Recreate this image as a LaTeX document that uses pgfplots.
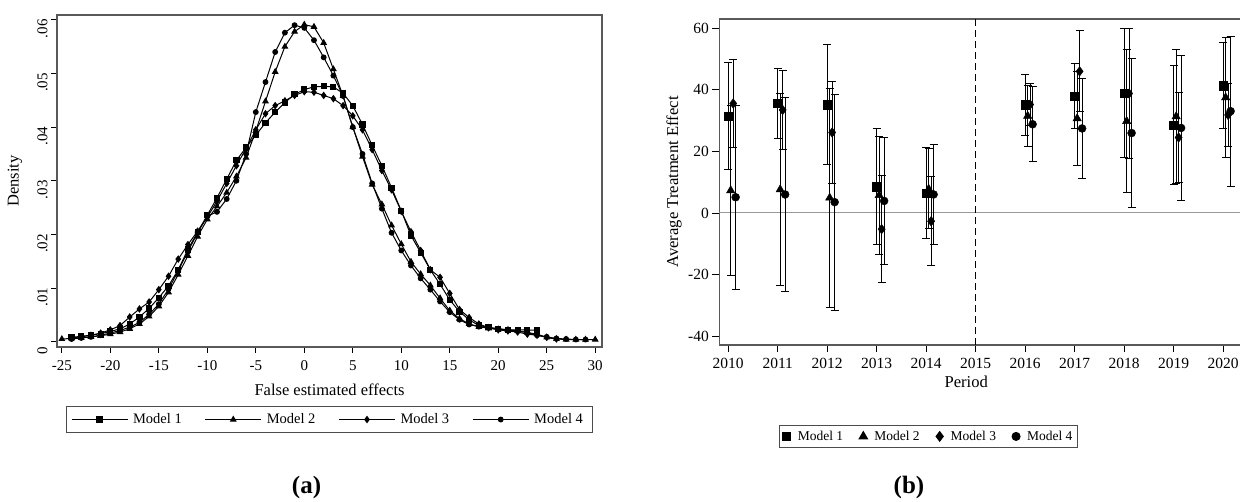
\documentclass[border=0pt]{standalone}
\usepackage{fontspec}
\setmainfont{Liberation Serif}
\usepackage{pgfplots}
\pgfplotsset{compat=1.18}

\begin{document}
\begin{tikzpicture}
\useasboundingbox (0pt,0pt) rectangle (1240pt,502pt);

% ---------- panel (a): densities of the placebo estimates
\begin{axis}[at={(57pt,155pt)},anchor=south west,scale only axis,width=545pt,height=332pt,
  xmin=-25.5,xmax=30.7,ymin=-0.00099,ymax=0.0609,
  xtick={-25,-20,...,30},ytick={0,0.01,0.02,0.03,0.04,0.05,0.06},
  yticklabels={0,.01,.02,.03,.04,.05,.06},scaled y ticks=false,
  tick pos=left,tick align=outside,major tick length=6pt,
  tick style={black,line width=0.8pt},axis line style={black!65,line width=1.2pt},
  /pgf/number format/assume math mode=true,
  ticklabel style={font=\fontsize{15}{17}\selectfont},
  xticklabel style={yshift=-4pt},
  yticklabel style={rotate=90,anchor=south,xshift=-9pt},
  xlabel={False estimated effects},ylabel={Density},
  label style={font=\fontsize{16.5}{19}\selectfont},
  xlabel style={at={(axis description cs:0.5,-0.13)},anchor=center},
  ylabel style={at={(axis description cs:-0.077,0.5)},anchor=center},
  legend columns=4,
  legend style={at={(0.5,-0.177)},anchor=north,draw=black!70,line width=1pt,
    font=\fontsize{14.5}{16}\selectfont,inner xsep=5pt,inner ysep=5.5pt,
    nodes={inner xsep=5pt},
    /tikz/every even column/.append style={column sep=18pt}},
  legend image code/.code={\draw[mark repeat=2,mark phase=2,#1] plot coordinates {(0pt,0pt) (28pt,0pt) (56pt,0pt)};},
  every axis plot/.append style={black,line width=1pt,mark options={solid}}]
\addplot[mark=square*,mark size=2.6pt] coordinates {(-24,0.0008)(-23,0.0010)(-22,0.0012)(-21,0.0015)(-20,0.0019)(-19,0.0024)(-18,0.0033)(-17,0.0046)(-16,0.0062)(-15,0.0082)(-14,0.0104)(-13,0.0134)(-12,0.0172)(-11,0.0204)(-10,0.0236)(-9,0.0268)(-8,0.0303)(-7,0.0338)(-6,0.0362)(-5,0.0385)(-4,0.0408)(-3,0.0428)(-2,0.0446)(-1,0.0461)(0,0.0470)(1,0.0475)(2,0.0476)(3,0.0475)(4,0.0463)(5,0.0440)(6,0.0405)(7,0.0366)(8,0.0328)(9,0.0287)(10,0.0244)(11,0.0198)(12,0.0166)(13,0.0134)(14,0.0107)(15,0.0078)(16,0.0056)(17,0.0041)(18,0.0030)(19,0.0027)(20,0.0024)(21,0.0022)(22,0.0022)(23,0.0022)(24,0.0021)};
\addlegendentry{Model 1}
\addplot[mark=triangle*,mark size=3pt] coordinates {(-25,0.0005)(-24,0.0006)(-23,0.0007)(-22,0.0009)(-21,0.0011)(-20,0.0014)(-19,0.0018)(-18,0.0024)(-17,0.0033)(-16,0.0047)(-15,0.0066)(-14,0.0092)(-13,0.0125)(-12,0.0160)(-11,0.0196)(-10,0.0228)(-9,0.0252)(-8,0.0278)(-7,0.0308)(-6,0.0343)(-5,0.0393)(-4,0.0448)(-3,0.0503)(-2,0.0550)(-1,0.0578)(0,0.0591)(1,0.0587)(2,0.0557)(3,0.0508)(4,0.0458)(5,0.0400)(6,0.0345)(7,0.0293)(8,0.0256)(9,0.0217)(10,0.0182)(11,0.0149)(12,0.0126)(13,0.0105)(14,0.0081)(15,0.0058)(16,0.0043)(17,0.0033)(18,0.0028)(19,0.0025)(20,0.0023)(21,0.0022)(22,0.0020)(23,0.0017)(24,0.0014)(25,0.0008)(26,0.0005)(27,0.0004)(28,0.0004)(29,0.0004)(30,0.0004)};
\addlegendentry{Model 2}
\addplot[mark=diamond*,mark size=3pt] coordinates {(-24,0.0007)(-23,0.0009)(-22,0.0012)(-21,0.0016)(-20,0.0022)(-19,0.0030)(-18,0.0046)(-17,0.0061)(-16,0.0074)(-15,0.0097)(-14,0.0122)(-13,0.0154)(-12,0.0181)(-11,0.0206)(-10,0.0232)(-9,0.0262)(-8,0.0295)(-7,0.0328)(-6,0.0360)(-5,0.0395)(-4,0.0425)(-3,0.0440)(-2,0.0449)(-1,0.0459)(0,0.0466)(1,0.0465)(2,0.0459)(3,0.0453)(4,0.0440)(5,0.0421)(6,0.0395)(7,0.0358)(8,0.0319)(9,0.0283)(10,0.0243)(11,0.0205)(12,0.0170)(13,0.0134)(14,0.0120)(15,0.0090)(16,0.0060)(17,0.0045)(18,0.0033)(19,0.0026)(20,0.0022)(21,0.0020)(22,0.0018)(23,0.0014)(24,0.0012)(25,0.0008)(26,0.0005)};
\addlegendentry{Model 3}
\addplot[mark=*,mark size=2.4pt] coordinates {(-24,0.0005)(-23,0.0007)(-22,0.0009)(-21,0.0012)(-20,0.0016)(-19,0.0021)(-18,0.0027)(-17,0.0036)(-16,0.0051)(-15,0.0070)(-14,0.0098)(-13,0.0132)(-12,0.0168)(-11,0.0203)(-10,0.0234)(-9,0.0242)(-8,0.0266)(-7,0.0300)(-6,0.0350)(-5,0.0428)(-4,0.0484)(-3,0.0540)(-2,0.0576)(-1,0.0590)(0,0.0585)(1,0.0562)(2,0.0530)(3,0.0496)(4,0.0458)(5,0.0400)(6,0.0350)(7,0.0295)(8,0.0248)(9,0.0203)(10,0.0170)(11,0.0142)(12,0.0118)(13,0.0097)(14,0.0075)(15,0.0055)(16,0.0041)(17,0.0032)(18,0.0028)(19,0.0026)(20,0.0024)(21,0.0022)(22,0.0020)(23,0.0017)(24,0.0012)(25,0.0009)(26,0.0006)(27,0.0005)(28,0.0004)(29,0.0004)};
\addlegendentry{Model 4}
\end{axis}

% ---------- panel (b): yearly effects, x = year - 2010
\begin{axis}[at={(719.3pt,157pt)},anchor=south west,scale only axis,width=520.7pt,height=326pt,
  xmin=-0.18,xmax=10.34,ymin=-42.9,ymax=63,
  axis y line*=left,
  xtick={0,...,10},xticklabels={2010,2011,2012,2013,2014,2015,2016,2017,2018,2019,2020},
  ytick={-40,-20,...,60},
  tick pos=left,tick align=outside,major tick length=7pt,
  tick style={black,line width=0.8pt},axis line style={black!65,line width=1.2pt},
  /pgf/number format/assume math mode=true,
  ticklabel style={font=\fontsize{15.5}{17}\selectfont},
  xticklabel style={yshift=-3pt},
  xlabel={Period},ylabel={Average Treatment Effect},
  label style={font=\fontsize{16.6}{19}\selectfont},
  xlabel style={at={(axis description cs:0.4743,-0.112)},anchor=center},
  ylabel style={at={(axis description cs:-0.087,0.5)},anchor=center},
  legend columns=4,
  legend style={at={(0.4018,-0.2454)},anchor=north,draw=black!70,line width=1pt,
    font=\fontsize{13.5}{15}\selectfont,inner ysep=3.5pt,inner xsep=3pt,
    /tikz/every even column/.append style={column sep=14pt}},
  legend image code/.code={\path[draw=none,fill=none] (0pt,0pt) -- (13pt,0pt); \draw[#1] plot coordinates {(4pt,0pt)};},
  every axis plot/.append style={black},
  error bars/error bar style={black,line width=1pt},
  error bars/error mark options={rotate=90,black,line width=1pt,mark size=4pt}]
\addplot[gray!80,line width=1pt,no marks,forget plot] coordinates {(-0.18,0)(10.34,0)};
\addplot[black,line width=1pt,dash pattern=on 7pt off 4pt,no marks,forget plot] coordinates {(5,-42.9)(5,63)};
\addplot[only marks,mark=square*,mark size=4.2pt,error bars/.cd,y dir=both,y explicit] coordinates {
  (0,31.5) +- (0,17.4) (1,35.55) +- (0,11.45) (2,35.2) +- (0,19.4)
  (3,8.5) +- (0,18.9) (4,6.45) +- (0,14.65) (6,35.1) +- (0,9.8)
  (7,37.85) +- (0,10.55) (8,38.85) +- (0,20.95) (9,28.5) +- (0,19.3)
  (10,41.35) +- (0,13.95)};
\addlegendentry{Model 1}
\addplot[only marks,mark=triangle*,mark size=4.8pt,error bars/.cd,y dir=both,y explicit] coordinates {
  (0.05,7.3) +- (0,27.7) (1.05,7.6) +- (0,31.3) (2.05,4.9) +- (0,35.6)
  (3.05,5.75) +- (0,19.15) (4.05,7.8) +- (0,13.0) (6.05,31.5) +- (0,9.9)
  (7.05,30.7) +- (0,15.4) (8.05,29.8) +- (0,23.2) (9.05,31.35) +- (0,21.65)
  (10.05,37.5) +- (0,19.5)};
\addlegendentry{Model 2}
\addplot[only marks,mark=diamond*,mark size=4.8pt,error bars/.cd,y dir=both,y explicit] coordinates {
  (0.1,35.55) +- (0,14.45) (1.1,33.45) +- (0,12.95) (2.1,26.15) +- (0,16.65)
  (3.1,-5.25) +- (0,17.35) (4.1,-2.7) +- (0,14.5) (6.1,35.2) +- (0,6.9)
  (7.1,46.0) +- (0,13.2) (8.1,38.8) +- (0,21.0) (9.1,24.5) +- (0,14.5)
  (10.1,31.85) +- (0,10.25)};
\addlegendentry{Model 3}
\addplot[only marks,mark=*,mark size=4pt,error bars/.cd,y dir=both,y explicit] coordinates {
  (0.15,5.1) +- (0,29.9) (1.15,6.0) +- (0,31.6) (2.15,3.5) +- (0,35.1)
  (3.15,3.9) +- (0,20.6) (4.15,6.0) +- (0,16.3) (6.15,28.8) +- (0,12.2)
  (7.15,27.45) +- (0,16.15) (8.15,25.95) +- (0,24.15) (9.15,27.6) +- (0,23.5)
  (10.15,33.05) +- (0,24.35)};
\addlegendentry{Model 4}
\end{axis}

\node[font=\bfseries\fontsize{25}{28}\selectfont] at (306.5pt,14.5pt) {(a)};
\node[font=\bfseries\fontsize{25}{28}\selectfont] at (909pt,14.5pt) {(b)};
\end{tikzpicture}
\end{document}
